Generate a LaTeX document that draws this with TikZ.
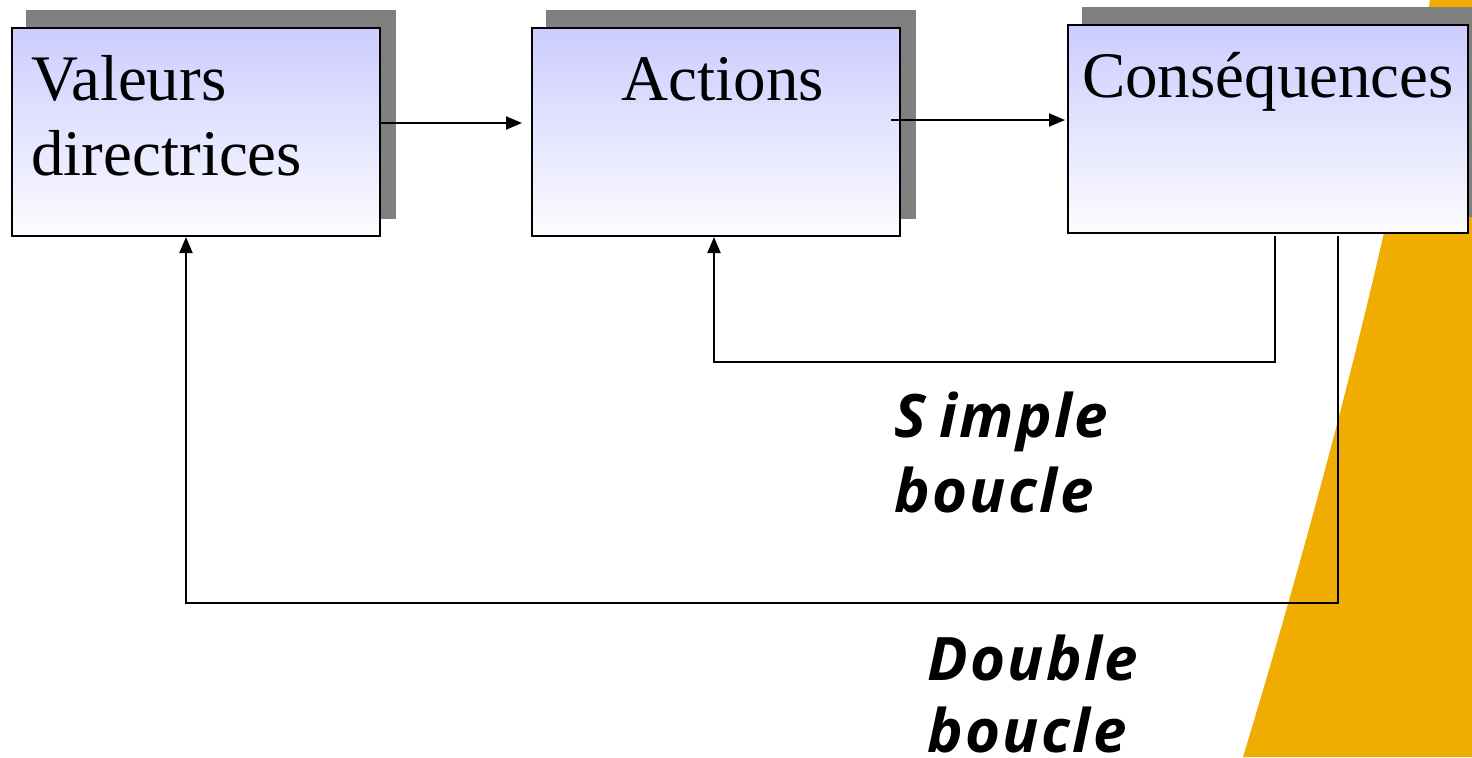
\documentclass[tikz,border=0pt]{standalone}
\usepackage{fontspec}
\setmainfont{Liberation Serif}
\newfontfamily\labelfont[LetterSpace=4]{Open Sans}
\usetikzlibrary{arrows.meta,shadings}
\definecolor{accent}{RGB}{240,172,0}
\definecolor{boxtop}{RGB}{204,204,255}
\definecolor{boxbot}{RGB}{252,252,255}
\definecolor{shadowgray}{RGB}{128,128,128}
\tikzset{
  box/.style={draw=black, line width=1pt, minimum width=184pt, minimum height=104pt,
    inner sep=0pt, top color=boxtop, bottom color=boxbot, anchor=north west},
  boxshadow/.style={fill=shadowgray, draw=none},
  boxtext/.style={font=\fontsize{32.5}{37.5}\selectfont, inner sep=0pt, anchor=base west},
  looptext/.style={font=\labelfont\bfseries\itshape\fontsize{30}{37.5}\selectfont, inner sep=0pt, anchor=base west},
  link/.style={line width=1pt, -{Triangle[length=8pt,width=6.5pt]}},
}
\begin{document}
\begin{tikzpicture}[x=0.5pt,y=-0.5pt]
\useasboundingbox (0,0) rectangle (1472,757);
% orange band on the right
\fill[accent] (1472,0) -- (1430,0)
  .. controls (1400,190) and (1330,470) .. (1243,757)
  -- (1472,757) -- cycle;
% shadows
\fill[boxshadow] (26,10) rectangle (396,219);
\fill[boxshadow] (546,10) rectangle (916,219);
\fill[boxshadow] (1082,7) rectangle (1480,217);
% boxes
\node[box] (val) at (11,27) {};
\node[box] (act) at (531,27) {};
\node[box, minimum width=200pt] (cons) at (1067,24) {};
% box texts
\node[boxtext] (valtxt) at (31,100) {Valeurs};
\node[boxtext] (valtxt2) at (31,175) {directrices};
\node[boxtext, anchor=base] (acttxt) at (723,100) {Actions};
\node[boxtext, anchor=base] (constxt) at (1268,97) {Conséquences};
% forward arrows
\draw[link] (val.east |- 0,123) -- ([xshift=-4.5pt]act.west |- 0,123);
\draw[link] (891,120) coordinate (actout) -- ([xshift=-1pt]cons.west |- actout);
% feedback loops
\coordinate (s1) at (1275,236);
\coordinate (d1) at (1338,236);
\draw[link] (s1) -- (1275,362) -- (714,362) -- (act.south -| 714,0);
\draw[link] (d1) -- (1338,603) -- (186,603) -- (val.south -| 186,0);
% loop labels
\node[looptext] (simple) at (894,437) {S\hspace{0.22em}imple};
\node[looptext] (simple2) at (894,512) {boucle};
\node[looptext] (double) at (927,680) {Double};
\node[looptext] (double2) at (927,752) {boucle};
\end{tikzpicture}
\end{document}
